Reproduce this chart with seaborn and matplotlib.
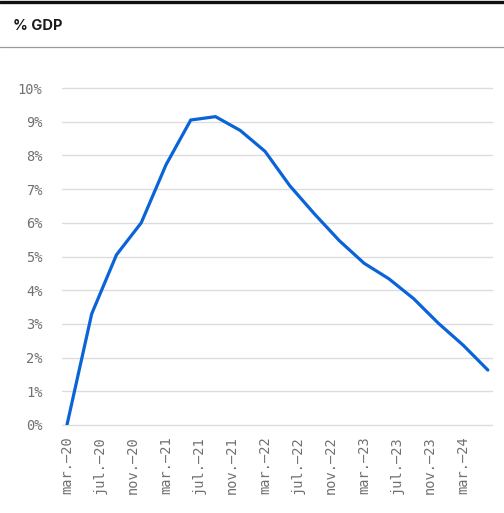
import matplotlib
matplotlib.use("Agg")
import matplotlib.pyplot as plt
from matplotlib.lines import Line2D
import pandas as pd
import seaborn as sns

# Quarterly observations, March 2020 to June 2024 (months since March 2020)
months = [0, 3, 6, 9, 12, 15, 18, 21, 24, 27, 30, 33, 36, 39, 42, 45, 48, 51]
pct_gdp = [0.0, 3.30, 5.05, 6.00, 7.72, 9.05, 9.15, 8.74, 8.12, 7.10, 6.26,
           5.47, 4.80, 4.34, 3.75, 3.02, 2.37, 1.63]

tick_months = [0, 4, 8, 12, 16, 20, 24, 28, 32, 36, 40, 44, 48]
tick_labels = ["mar.–20", "jul.–20", "nov.–20", "mar.–21", "jul.–21", "nov.–21",
               "mar.–22", "jul.–22", "nov.–22", "mar.–23", "jul.–23", "nov.–23",
               "mar.–24"]
y_ticks = list(range(0, 11))
y_labels = [f"{v}%" for v in y_ticks]
title = "% GDP"

df = pd.DataFrame({"month": months, "value": pct_gdp})

sns.set_theme(style="white")
plt.rcParams["font.family"] = ["DejaVu Sans"]

W, H = 504, 513
fig = plt.figure(figsize=(W / 100, H / 100), dpi=100)
ax = fig.add_axes([62 / W, 1 - 425 / H, (492 - 62) / W, (425 - 88) / H])

sns.lineplot(data=df, x="month", y="value", ax=ax, color="#0a64d8",
             linewidth=2.3, solid_joinstyle="miter")

ax.set_xlim(-0.6, 51.5)
ax.set_ylim(0, 10)
ax.set_yticks(y_ticks)
ax.set_yticklabels(y_labels)
ax.set_xticks(tick_months)
ax.set_xticklabels(tick_labels, rotation=90)
ax.set_xlabel("")
ax.set_ylabel("")
ax.grid(axis="y", color="#dcdcdc", linewidth=1.0)
for gl in ax.get_ygridlines():
    gl.set_clip_on(False)
ax.set_axisbelow(True)
for s in ax.spines.values():
    s.set_visible(False)
ax.tick_params(axis="both", length=0, labelcolor="#707070", labelsize=9.8)
ax.tick_params(axis="y", pad=14)
ax.tick_params(axis="x", pad=8)
for lbl in ax.get_xticklabels() + ax.get_yticklabels():
    lbl.set_fontfamily("DejaVu Sans Mono")

# Header: heavy rule on top, title, thin rule beneath
fig.add_artist(Line2D([0, 1], [1 - 1.5 / H, 1 - 1.5 / H], color="#111111",
                      linewidth=2.4, transform=fig.transFigure))
fig.text(13 / W, 1 - 26 / H, title, ha="left", va="center", fontsize=10.5,
         fontweight="bold", color="#1a1a1a", family=["Inter", "DejaVu Sans"])
fig.add_artist(Line2D([0, 1], [1 - 47 / H, 1 - 47 / H], color="#9a9a9a",
                      linewidth=0.9, transform=fig.transFigure))

fig.savefig("out.png", dpi=100, facecolor="white")
